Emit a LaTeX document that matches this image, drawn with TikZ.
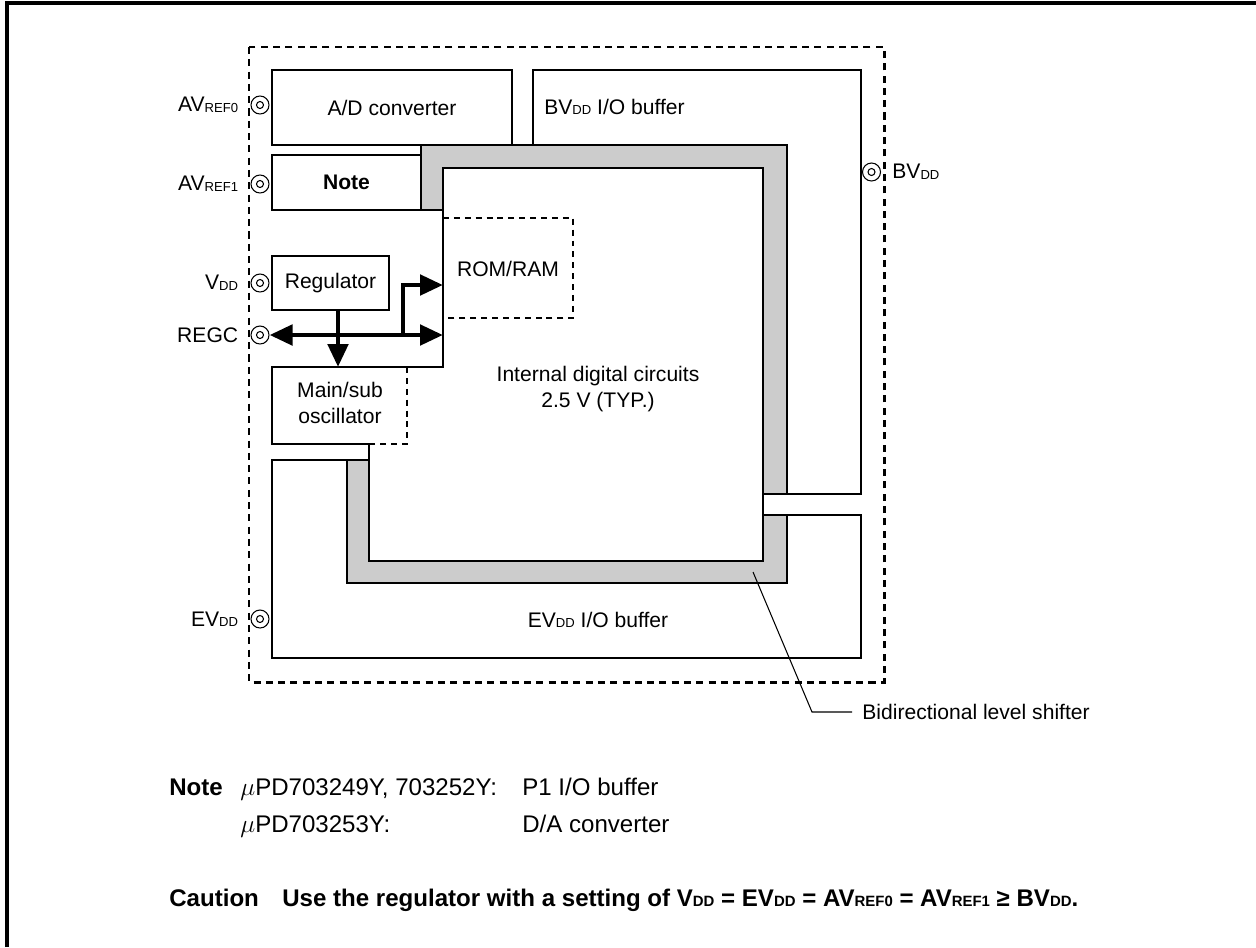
\documentclass[tikz,border=0pt]{standalone}
\usepackage{fontspec}
\setmainfont{Liberation Sans}
\usetikzlibrary{arrows.meta, positioning}
\makeatletter
\newcommand{\pinsub}[1]{\raisebox{-0.3pt}{\fontsize{\strip@pt\dimexpr0.62\dimexpr\f@size pt\relax\relax}{9}\selectfont #1}}
\makeatother

\begin{document}
\begin{tikzpicture}[
    x=0.02cm, y=-0.02cm,
    font=\fontsize{12}{14.8}\selectfont,
    >={Triangle[length=0.46cm, width=0.4cm]},
    blk/.style={draw, line width=1.3pt, fill=white, inner sep=0pt, align=center},
    edge/.style={line width=1.3pt, line join=miter},
    band/.style={draw, line width=1.3pt, fill=black!20},
    sheet/.style={line width=2.3pt},
    chip/.style={line width=1.7pt, dash pattern=on 4pt off 3pt},
    part/.style={line width=1.3pt, dash pattern=on 3.4pt off 2.8pt},
    bus/.style={line width=2.8pt, line join=miter},
    lbl/.style={inner sep=0pt, align=center},
    foot/.style={inner sep=0pt, anchor=base west, font=\fontsize{13.7}{16}\selectfont},
    term/.style={draw, circle, line width=0.6pt, minimum size=0.36cm, inner sep=0pt, fill=white,
      path picture={\draw[line width=0.6pt] (path picture bounding box.center) circle (0.07cm);}}
  ]
    \useasboundingbox (0,0) rectangle (1256,947);
    \draw[sheet] (7,947) -- (7,3) -- (1256,3);
    \draw[chip] (249,47) rectangle (884,682);

    \draw[edge, fill=white] (533,70) rectangle (861,494);
    \node[blk, minimum width=4.8cm, minimum height=1.5cm] (adc) at (392,107.5) {A/D converter};
    \draw[edge, fill=white] (272,460) -- (347,460) -- (347,583) -- (787,583) -- (787,515)
      -- (861,515) -- (861,658) -- (272,658) -- cycle;
    \draw[band] (421,210) -- (421,145) -- (787,145) -- (787,494) -- (763,494) -- (763,168)
      -- (443,168) -- (443,210) -- cycle;
    \draw[band] (347,460) -- (369,460) -- (369,561) -- (763,561) -- (763,515) -- (787,515)
      -- (787,583) -- (347,583) -- cycle;
    \draw[edge, fill=white] (443,168) -- (763,168) -- (763,561) -- (369,561) -- (369,444)
      -- (272,444) -- (272,367) -- (443,367) -- cycle;
    \draw[part] (407,367) -- (407,444) -- (369,444);
    \draw[part] (443,218) -- (573,218) -- (573,318) -- (443,318);

    \node[blk, minimum width=2.98cm, minimum height=1.1cm] (note) at (346.5,182.5) {\bfseries Note};
    \node[blk, minimum width=2.34cm, minimum height=1.08cm] (reg) at (330.5,283) {Regulator};
    \node[lbl] (osc) at (340,403) {Main/sub\\oscillator};
    \node[lbl] (rom) at (508,269) {ROM/RAM};
    \node[lbl] (core) at (598,389) {Internal digital circuits\\2.5 V (TYP.)};
    \node[lbl, anchor=west] (bvbuf) at (544,107) {BV\pinsub{DD} I/O buffer};
    \node[lbl] (evbuf) at (598,620) {EV\pinsub{DD} I/O buffer};

    \node[term, label={[lbl, label distance=0.24cm]left:AV\pinsub{REF0}}] (avref0) at (260,105) {};
    \node[term, label={[lbl, label distance=0.24cm]left:AV\pinsub{REF1}}] (avref1) at (260,184) {};
    \node[term, label={[lbl, label distance=0.24cm]left:V\pinsub{DD}}] (vdd) at (260,283) {};
    \node[term, label={[lbl, label distance=0.24cm]left:REGC}] (regc) at (260,335) {};
    \node[term, label={[lbl, label distance=0.24cm]left:EV\pinsub{DD}}] (evdd) at (260,619) {};
    \node[term, label={[lbl, label distance=0.22cm]right:BV\pinsub{DD}}] (bvdd) at (871.5,172) {};

    \coordinate (busend) at (443,335);
    \coordinate (tee) at (403,335);
    \coordinate (romin) at (443,285);
    \coordinate (regtap) at (338,310);
    \coordinate (osctop) at (338,367);
    \draw[bus, <->] (regc.east) -- (busend);
    \draw[bus, ->] (regtap) -- (osctop);
    \draw[bus, ->] (tee) |- (romin);

    \node[lbl, anchor=west] (shifter) at (862,712) {Bidirectional level shifter};
    \coordinate (lsin) at (753,572);
    \coordinate (lsbend) at (812,712);
    \draw[line width=0.6pt, shorten >=0.2cm] (lsin) -- (lsbend) -- (shifter.west);

    \node[foot] (notehd) at (169,795) {\bfseries Note};
    \node[foot] (p49) at (240,795) {$\mu$PD703249Y, 703252Y:};
    \node[foot] (p49d) at (522,795) {P1 I/O buffer};
    \node[foot] (p53) at (240,832) {$\mu$PD703253Y:};
    \node[foot] (p53d) at (522,832) {D/A converter};
    \node[foot] (cauhd) at (169,906) {\bfseries Caution};
    \node[foot] (cautxt) at (282,906) {\bfseries Use the regulator with a setting of V\pinsub{DD} = EV\pinsub{DD} = AV\pinsub{REF0} = AV\pinsub{REF1} ≥ BV\pinsub{DD}.};
  \end{tikzpicture}
\end{document}
